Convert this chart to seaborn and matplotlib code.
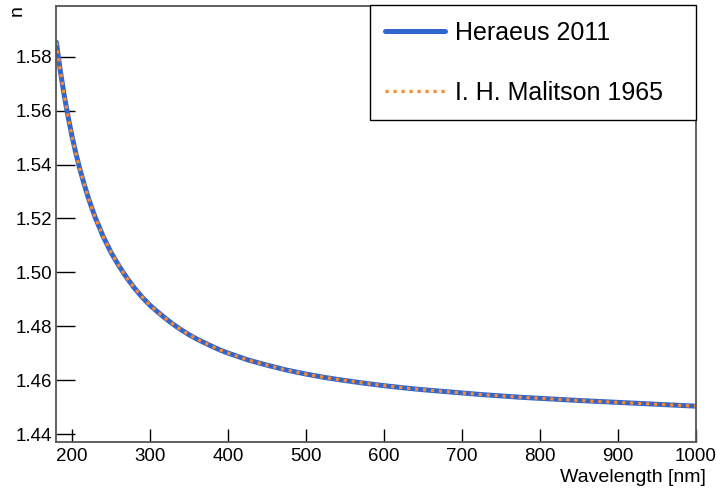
import numpy as np
import pandas as pd
import matplotlib
matplotlib.use("Agg")
import matplotlib.pyplot as plt
from matplotlib.ticker import MultipleLocator
import seaborn as sns

# Refractive index of fused silica vs. wavelength
wavelength_nm = [180, 185, 190, 195, 200, 205, 210, 215, 220, 225, 230, 240, 250,
                 260, 270, 280, 290, 300, 310, 320, 330, 340, 350, 360, 370, 380,
                 390, 400, 425, 450, 475, 500, 525, 550, 575, 600, 625, 650, 675,
                 700, 725, 750, 775, 800, 850, 900, 950, 1000]
n_heraeus = [1.5853, 1.5747, 1.5657, 1.5577, 1.5505, 1.5441, 1.5384, 1.5333,
             1.5285, 1.5242, 1.5202, 1.5133, 1.5074, 1.5025, 1.4981, 1.4942,
             1.4908, 1.4878, 1.4853, 1.4829, 1.4807, 1.4787, 1.4769, 1.4753,
             1.4739, 1.4725, 1.4712, 1.4701, 1.4676, 1.4656, 1.4638, 1.4623,
             1.4610, 1.4599, 1.4589, 1.4580, 1.4572, 1.4565, 1.4559, 1.4553,
             1.4547, 1.4542, 1.4537, 1.4533, 1.4525, 1.4518, 1.4511, 1.4504]
n_malitson = [1.5853, 1.5747, 1.5657, 1.5577, 1.5505, 1.5441, 1.5384, 1.5333,
              1.5285, 1.5242, 1.5202, 1.5133, 1.5075, 1.5025, 1.4981, 1.4942,
              1.4909, 1.4878, 1.4853, 1.4829, 1.4807, 1.4787, 1.4769, 1.4753,
              1.4739, 1.4725, 1.4712, 1.4701, 1.4676, 1.4656, 1.4638, 1.4623,
              1.4610, 1.4599, 1.4589, 1.4580, 1.4572, 1.4565, 1.4559, 1.4553,
              1.4547, 1.4542, 1.4537, 1.4533, 1.4525, 1.4518, 1.4511, 1.4504]
series_labels = ["Heraeus 2011", "I. H. Malitson 1965"]
x_ticks = [200, 300, 400, 500, 600, 700, 800, 900, 1000]
y_ticks = [1.44, 1.46, 1.48, 1.50, 1.52, 1.54, 1.56, 1.58]

df = pd.DataFrame({
    "wavelength": wavelength_nm * 2,
    "n": n_heraeus + n_malitson,
    "source": [series_labels[0]] * len(wavelength_nm) + [series_labels[1]] * len(wavelength_nm),
})

sns.set_theme(style="white")
plt.rcParams["font.family"] = ["Liberation Sans", "DejaVu Sans"]
plt.rcParams["text.color"] = "black"
plt.rcParams["xtick.color"] = "black"
plt.rcParams["ytick.color"] = "black"

fig = plt.figure(figsize=(7.17, 4.91), dpi=100)
ax = fig.add_axes([56.4 / 717, 1 - 442.3 / 491, (696 - 56.4) / 717, (442.3 - 5.7) / 491])

blue = "#3366cc"
orange = "#ff8a2a"
sns.lineplot(data=df[df.source == series_labels[0]], x="wavelength", y="n",
             color=blue, lw=3.6, ax=ax, label=series_labels[0])
sns.lineplot(data=df[df.source == series_labels[1]], x="wavelength", y="n",
             color=orange, lw=2.3, ax=ax, label=series_labels[1],
             linestyle=(0, (1, 1.5)), dash_capstyle="butt")

ax.set_xlim(180, 1000)
ax.set_ylim(1.4370, 1.5989)
ax.set_xticks(x_ticks)
ax.set_yticks(y_ticks)
ax.set_xticklabels([str(t) for t in x_ticks])
ax.set_yticklabels([f"{t:.2f}" for t in y_ticks])
ax.xaxis.set_minor_locator(MultipleLocator(20))
ax.yaxis.set_minor_locator(MultipleLocator(0.005))

ax.tick_params(axis="both", which="both", direction="in", colors="black",
               labelcolor="black", labelsize=13.5, top=False, right=False)
ax.tick_params(axis="y", which="major", length=13.7, width=1.0, pad=3)
ax.tick_params(axis="y", which="minor", length=6.5, width=1.0)
ax.tick_params(axis="x", which="major", length=9.4, width=1.0, pad=4)
ax.tick_params(axis="x", which="minor", length=5.0, width=1.0)
ax.yaxis.set_tick_params(left=True)
ax.xaxis.set_tick_params(bottom=True)

for sp in ax.spines.values():
    sp.set_visible(True)
    sp.set_color("#555555")
    sp.set_linewidth(1.3)

ax.set_xlabel("")
ax.set_ylabel("")
fig.text(706 / 717, 1 - 478 / 491, "Wavelength [nm]", ha="right", va="center",
         fontsize=14, color="black")
fig.text(17 / 717, 1 - 5.5 / 491, "n", rotation=90, ha="center", va="top",
         fontsize=14, color="black")

leg = ax.legend(loc="upper left", bbox_to_anchor=(0.4903, 0, 0.5097, 1.0015),
                mode="expand", borderaxespad=0, fontsize=18, frameon=True,
                fancybox=False, edgecolor="black", framealpha=1,
                handlelength=2.4, handletextpad=0.4, borderpad=0.62,
                labelspacing=1.45)
leg.get_frame().set_linewidth(1.0)
for t in leg.get_texts():
    t.set_color("black")

fig.savefig("out.png", dpi=100, facecolor="white")
